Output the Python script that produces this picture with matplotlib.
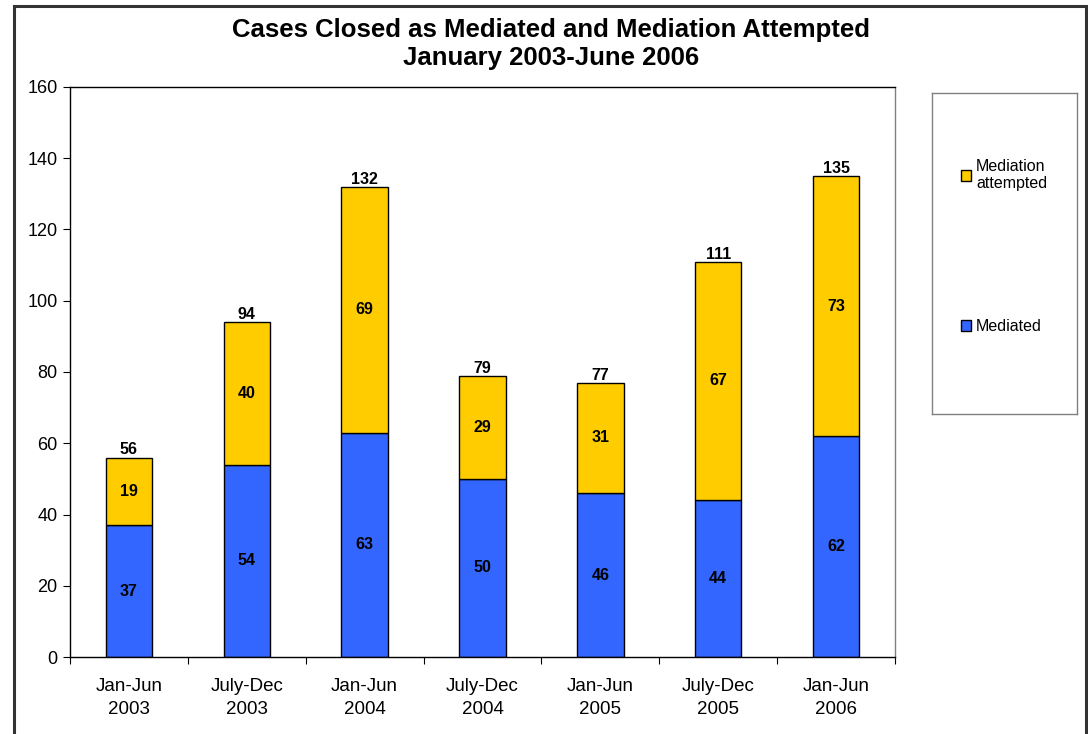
import matplotlib.pyplot as plt
from matplotlib.patches import Rectangle
import numpy as np

plt.rcParams['font.family'] = ['Liberation Sans', 'DejaVu Sans']

periods = ['Jan-Jun\n2003', 'July-Dec\n2003', 'Jan-Jun\n2004', 'July-Dec\n2004',
           'Jan-Jun\n2005', 'July-Dec\n2005', 'Jan-Jun\n2006']
mediated = [37, 54, 63, 50, 46, 44, 62]
attempted = [19, 40, 69, 29, 31, 67, 73]
totals = [56, 94, 132, 79, 77, 111, 135]

W, H = 1088, 734
fig = plt.figure(figsize=(W / 100, H / 100), dpi=100)

# outer chart border (bottom is cut off in the original)
fig.patches.append(Rectangle((14 / W, -0.05), (1086 - 14) / W, 1.05 - 6 / H,
                             transform=fig.transFigure, fill=False,
                             edgecolor='#333333', linewidth=2.2))

ax = fig.add_axes([70 / W, (H - 657) / H, (895 - 70) / W, (657 - 87) / H])
x = np.arange(len(periods))
b1 = ax.bar(x, mediated, width=0.395, color='#3366FF', edgecolor='black',
            linewidth=1, label='Mediated')
b2 = ax.bar(x, attempted, width=0.395, bottom=mediated, color='#FFCC00',
            edgecolor='black', linewidth=1, label='Mediation\nattempted')

ax.bar_label(b1, label_type='center', fontsize=11.5, fontweight='bold')
ax.bar_label(b2, label_type='center', fontsize=11.5, fontweight='bold')
ax.bar_label(b2, labels=[str(t) for t in totals], padding=0,
             fontsize=11.5, fontweight='bold')

ax.set_xlim(-0.5, len(periods) - 0.5)
ax.set_ylim(0, 160)
ax.set_yticks(range(0, 161, 20))
ax.set_xticks(np.arange(-0.5, len(periods), 1.0))
ax.set_xticklabels([])
ax.set_xticks(x, minor=True)
ax.set_xticklabels(periods, minor=True, linespacing=1.45)
ax.tick_params(axis='x', which='minor', length=0, pad=15, labelsize=13.5)
ax.tick_params(axis='x', which='major', length=5, direction='out')
ax.tick_params(axis='y', length=5, direction='out', labelsize=13, pad=4)
for s in ['top', 'left', 'bottom']:
    ax.spines[s].set_color('black')
ax.spines['right'].set_color('#808080')
for s in ax.spines.values():
    s.set_linewidth(1)

fig.text(551 / W, 1 - 44 / H,
         'Cases Closed as Mediated and Mediation Attempted\nJanuary 2003-June 2006',
         ha='center', va='center', fontsize=18.5, fontweight='bold', linespacing=1.25)

# legend box
lax = fig.add_axes([932 / W, (H - 414) / H, (1077 - 932) / W, (414 - 93) / H])
lax.set_xticks([])
lax.set_yticks([])
for s in lax.spines.values():
    s.set_color('#808080')
    s.set_linewidth(1)

leg1 = lax.legend(handles=[b2], loc='upper left', bbox_to_anchor=(0.2, 0.795),
                  frameon=False, fontsize=11.5, handlelength=0.65, handleheight=0.65,
                  handletextpad=0.3, borderpad=0, borderaxespad=0)
lax.add_artist(leg1)
lax.legend(handles=[b1], loc='upper left', bbox_to_anchor=(0.2, 0.295),
           frameon=False, fontsize=11.5, handlelength=0.65, handleheight=0.65,
           handletextpad=0.3, borderpad=0, borderaxespad=0)

fig.savefig('out.png', dpi=100)
